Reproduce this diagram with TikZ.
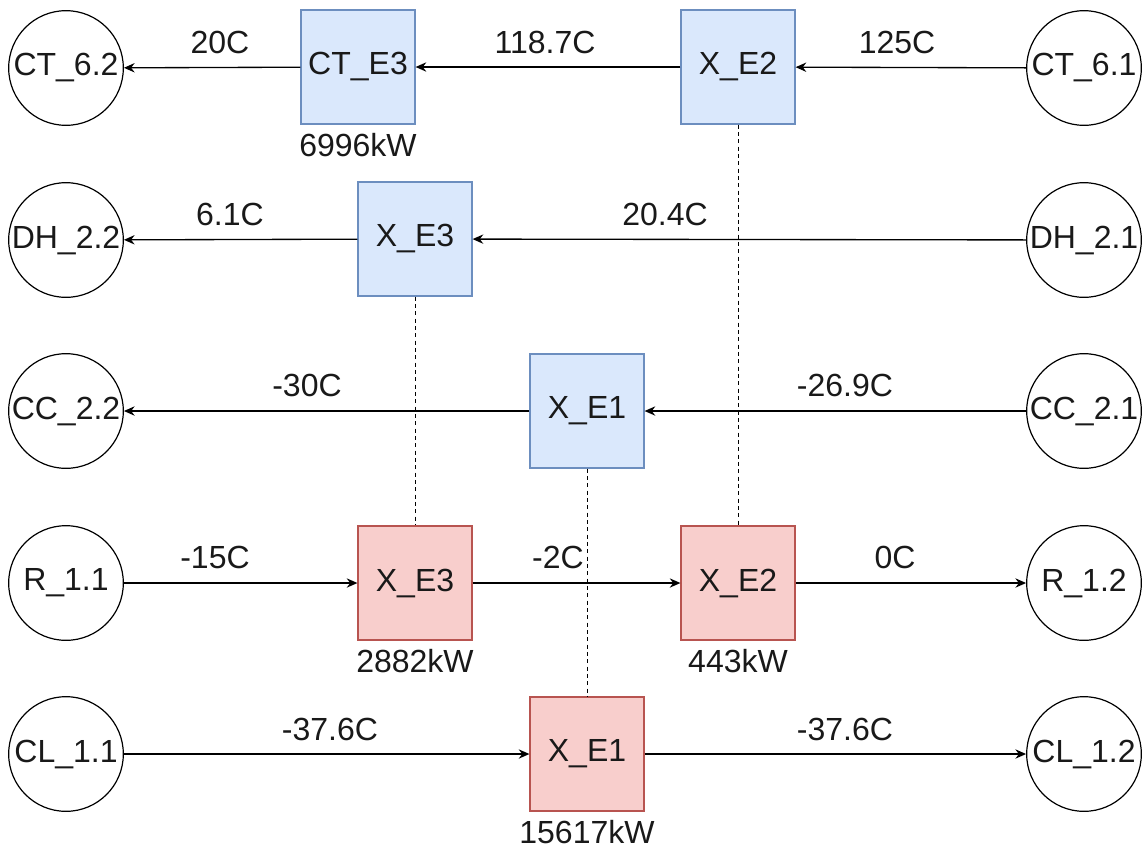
\documentclass[tikz,border=0pt]{standalone}
\usepackage{fontspec}
\setmainfont{Liberation Sans}
\usetikzlibrary{arrows.meta}
\usetikzlibrary{positioning}

\definecolor{bluefill}{HTML}{DAE8FC}
\definecolor{blueline}{HTML}{6C8EBF}
\definecolor{redfill}{HTML}{F8CECC}
\definecolor{redline}{HTML}{B85450}

\begin{document}
\begin{tikzpicture}[x=0.75pt, y=-0.75pt,
    every node/.style={font=\fontsize{24}{28}\selectfont, text=black!90},
    stream/.style={circle, draw, line width=0.9pt, inner sep=0pt, minimum size=86pt},
    bluex/.style={rectangle, draw=blueline, fill=bluefill, line width=0.9pt, minimum size=85.5pt, inner sep=0pt},
    redx/.style={rectangle, draw=redline, fill=redfill, line width=0.9pt, minimum size=85.5pt, inner sep=0pt},
    flow/.style={-{Stealth[length=8pt, width=7pt]}, line width=1pt},
    link/.style={dash pattern=on 3pt off 2.5pt, line width=0.6pt},
    lbl/.style={inner sep=0pt}]
        % Fix the canvas
        \useasboundingbox (0,0) rectangle (1148,854);

        % Stream end points
        \node[stream] (CT62) at (66,68) {CT\_6.2};
        \node[stream] (CT61) at (1084,68) {CT\_6.1};
        \node[stream] (DH22) at (66,240) {DH\_2.2};
        \node[stream] (DH21) at (1084,240) {DH\_2.1};
        \node[stream] (CC22) at (66,411) {CC\_2.2};
        \node[stream] (CC21) at (1084,411) {CC\_2.1};
        \node[stream] (R11) at (66,583) {R\_1.1};
        \node[stream] (R12) at (1084,583) {R\_1.2};
        \node[stream] (CL11) at (66,754) {CL\_1.1};
        \node[stream] (CL12) at (1084,754) {CL\_1.2};

        % Exchangers
        \node[bluex] (CTE3) at (358,67) {CT\_E3};
        \node[bluex] (XE2b) at (738,67) {X\_E2};
        \node[bluex] (XE3b) at (415,239) {X\_E3};
        \node[bluex] (XE1b) at (587,411) {X\_E1};
        \node[redx] (XE3r) at (415,583) {X\_E3};
        \node[redx] (XE2r) at (738,583) {X\_E2};
        \node[redx] (XE1r) at (587,754) {X\_E1};

        % Matching exchangers
        \draw[link] (XE2b) -- (XE2r);
        \draw[link] (XE3b) -- (XE3r);
        \draw[link] (XE1b) -- (XE1r);

        % Streams
        \draw[flow] (CT61) -- (XE2b);
        \draw[flow] (XE2b) -- (CTE3);
        \draw[flow] (CTE3) -- (CT62);
        \draw[flow] (DH21) -- (XE3b);
        \draw[flow] (XE3b) -- (DH22);
        \draw[flow] (CC21) -- (XE1b);
        \draw[flow] (XE1b) -- (CC22);
        \draw[flow] (R11) -- (XE3r);
        \draw[flow] (XE3r) -- (XE2r);
        \draw[flow] (XE2r) -- (R12);
        \draw[flow] (CL11) -- (XE1r);
        \draw[flow] (XE1r) -- (CL12);

        % Temperatures
        \node[lbl] (t1) at (220,42) {20C};
        \node[lbl] (t2) at (545,42) {118.7C};
        \node[lbl] (t3) at (897,42) {125C};
        \node[lbl] (t4) at (230,214) {6.1C};
        \node[lbl] (t5) at (665,214) {20.4C};
        \node[lbl] (t6) at (307,385) {-30C};
        \node[lbl] (t7) at (845,385) {-26.9C};
        \node[lbl] (t8) at (215,557) {-15C};
        \node[lbl] (t9) at (558,557) {-2C};
        \node[lbl] (t10) at (895,557) {0C};
        \node[lbl] (t11) at (330,729) {-37.6C};
        \node[lbl] (t12) at (845,729) {-37.6C};

        % Duties
        \node[lbl] (q1) at (358,145) {6996kW};
        \node[lbl] (q2) at (415,661) {2882kW};
        \node[lbl] (q3) at (738,661) {443kW};
        \node[lbl] (q4) at (587,832) {15617kW};
      \end{tikzpicture}
\end{document}
